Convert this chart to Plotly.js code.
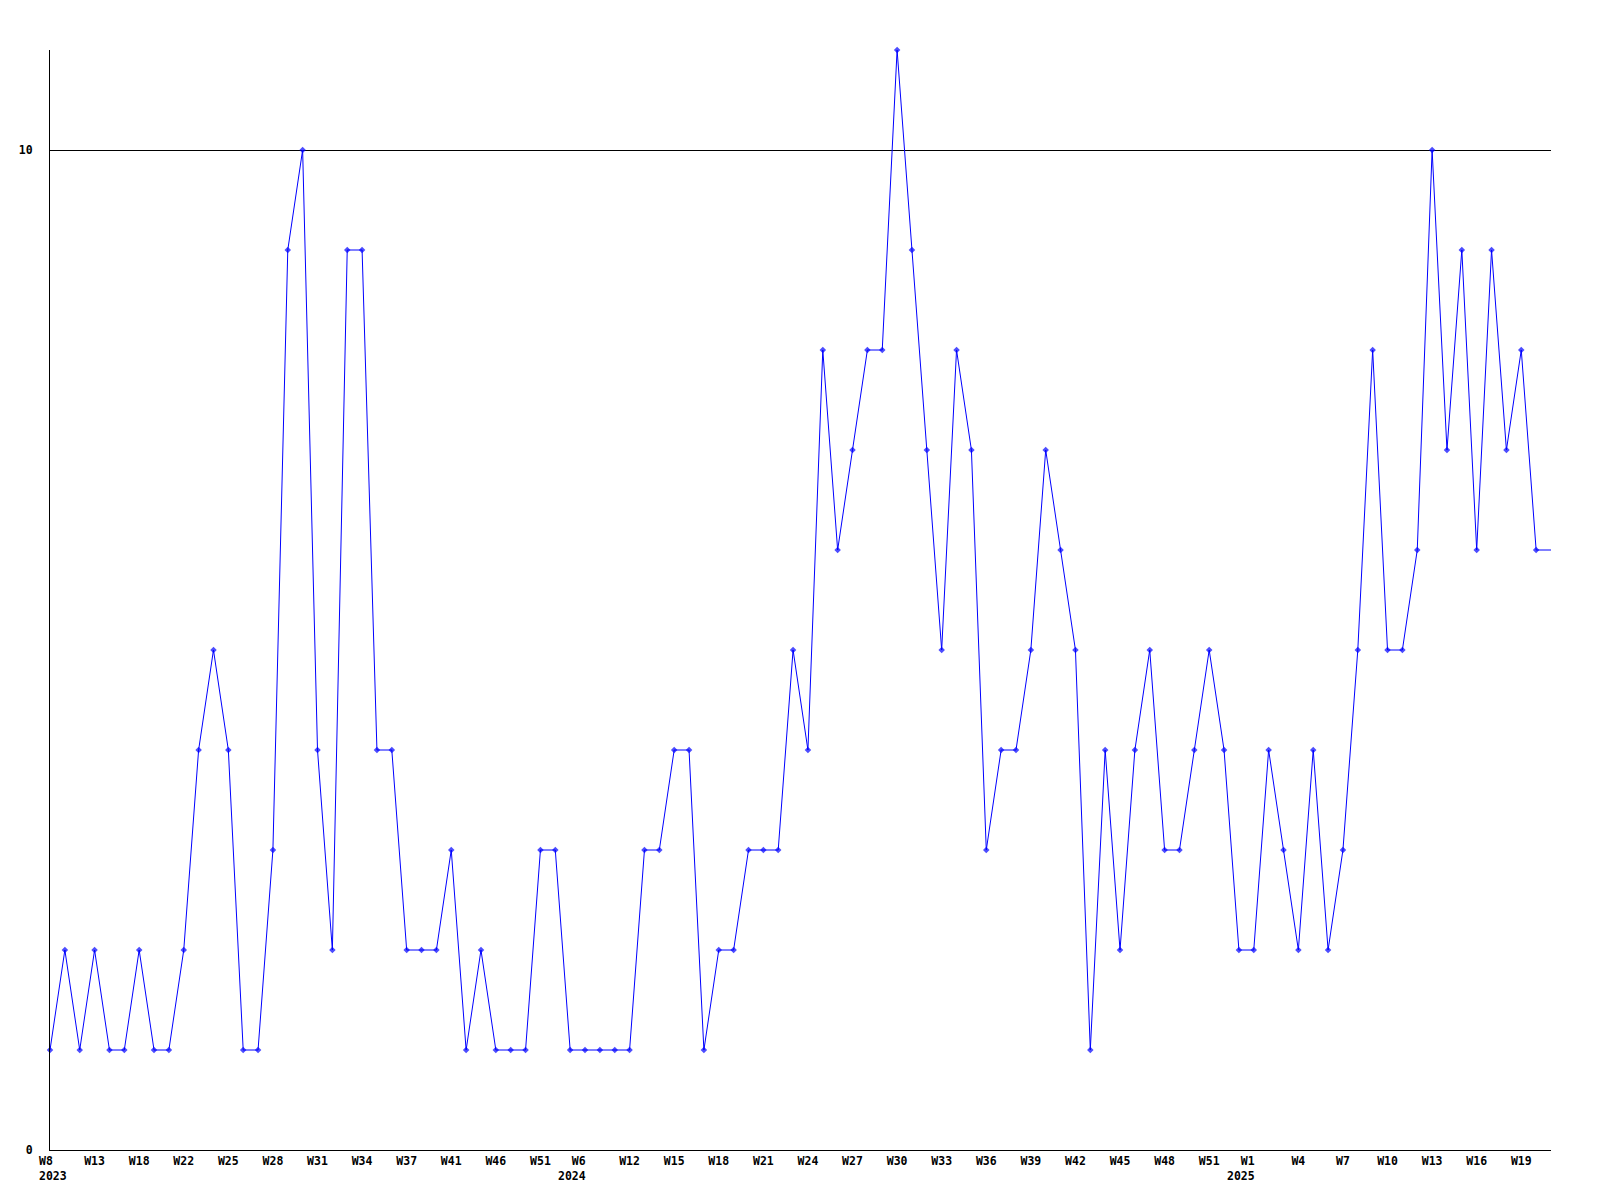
<!DOCTYPE html>
<html>
<head>
<meta charset="utf-8">
<script src="https://cdn.plot.ly/plotly-3.0.1.min.js"></script>
<style>
  html, body { margin: 0; padding: 0; background: #ffffff; }
  #chart { width: 1600px; height: 1200px; }
</style>
</head>
<body>
<div id="chart"></div>
<script>
// Weekly counts, one per observed week (the last value is the current, incomplete week)
const weeklyCounts = [
  1, 2, 1, 2, 1, 1, 2, 1, 1, 2,
  4, 5, 4, 1, 1, 3, 9, 10, 4, 2,
  9, 9, 4, 4, 2, 2, 2, 3, 1, 2,
  1, 1, 1, 3, 3, 1, 1, 1, 1, 1,
  3, 3, 4, 4, 1, 2, 2, 3, 3, 3,
  5, 4, 8, 6, 7, 8, 8, 11, 9, 7,
  5, 8, 7, 3, 4, 4, 5, 7, 6, 5,
  1, 4, 2, 4, 5, 3, 3, 4, 5, 4,
  2, 2, 4, 3, 2, 4, 2, 3, 5, 8,
  5, 5, 6, 10, 7, 9, 6, 9, 7, 8,
  6, 6
];

// Week tick labels, one every third observation
const weekLabels = [
  "W8", "W13", "W18", "W22", "W25", "W28", "W31", "W34", "W37", "W41",
  "W46", "W51", "W6", "W12", "W15", "W18", "W21", "W24", "W27", "W30",
  "W33", "W36", "W39", "W42", "W45", "W48", "W51", "W1", "W4", "W7",
  "W10", "W13", "W16", "W19"
];
// Year shown under the first week label of each year ("" = none)
const yearLabels = [
  "2023", "", "", "", "", "", "", "", "", "",
  "", "", "2024", "", "", "", "", "", "", "",
  "", "", "", "", "", "", "", "2025", "", "",
  "", "", "", ""
];
const tickEvery = 3;

const xIndex = weeklyCounts.map((_, i) => i);
const tickVals = weekLabels.map((_, i) => i * tickEvery);
const markerSizes = weeklyCounts.map((_, i) => (i === weeklyCounts.length - 1 ? 0 : 5));

const fontFamily = 'DejaVu Sans Mono, Liberation Mono, monospace';
const tickFont = { family: fontFamily, size: 11.5, color: '#000000', weight: 'bold' };

// Plain week labels go on the axis; labels that carry a year are drawn as annotations
const tickText = weekLabels.map((w, i) => (yearLabels[i] ? '' : w));
const annotations = [];
weekLabels.forEach((w, i) => {
  if (!yearLabels[i]) return;
  const first = i === 0;
  annotations.push({
    xref: 'x', yref: 'paper',
    x: tickVals[i], y: 0,
    xanchor: first ? 'left' : 'right',
    yanchor: 'top',
    align: first ? 'left' : 'right',
    xshift: first ? -12 : 2,
    yshift: -3,
    showarrow: false,
    borderpad: 0,
    text: w + '<br>' + yearLabels[i],
    font: tickFont
  });
});

const trace = {
  x: xIndex,
  y: weeklyCounts,
  type: 'scatter',
  mode: 'lines+markers',
  line: { color: '#0000ff', width: 1 },
  marker: { color: '#0000ff', size: markerSizes, symbol: 'diamond', line: { width: 0 } },
  hoverinfo: 'none',
  cliponaxis: false
};

const layout = {
  width: 1600,
  height: 1200,
  margin: { l: 50, r: 49, t: 50, b: 50, pad: 0 },
  paper_bgcolor: '#ffffff',
  plot_bgcolor: '#ffffff',
  showlegend: false,
  annotations: annotations,
  xaxis: {
    range: [0, weeklyCounts.length - 1],
    tickmode: 'array',
    tickvals: tickVals,
    ticktext: tickText,
    tickangle: 0,
    ticks: '',
    showgrid: false,
    zeroline: false,
    showline: true,
    linecolor: '#000000',
    linewidth: 1,
    tickfont: tickFont,
    fixedrange: true
  },
  yaxis: {
    range: [0, 11],
    tickmode: 'array',
    tickvals: [0, 10],
    ticktext: ['0', '10'],
    ticks: '',
    ticklabelstandoff: 14,
    showgrid: true,
    gridcolor: '#000000',
    gridwidth: 1,
    zeroline: false,
    showline: true,
    linecolor: '#000000',
    linewidth: 1,
    tickfont: tickFont,
    fixedrange: true
  }
};

Plotly.newPlot('chart', [trace], layout, { staticPlot: true, displayModeBar: false });
</script>
</body>
</html>
